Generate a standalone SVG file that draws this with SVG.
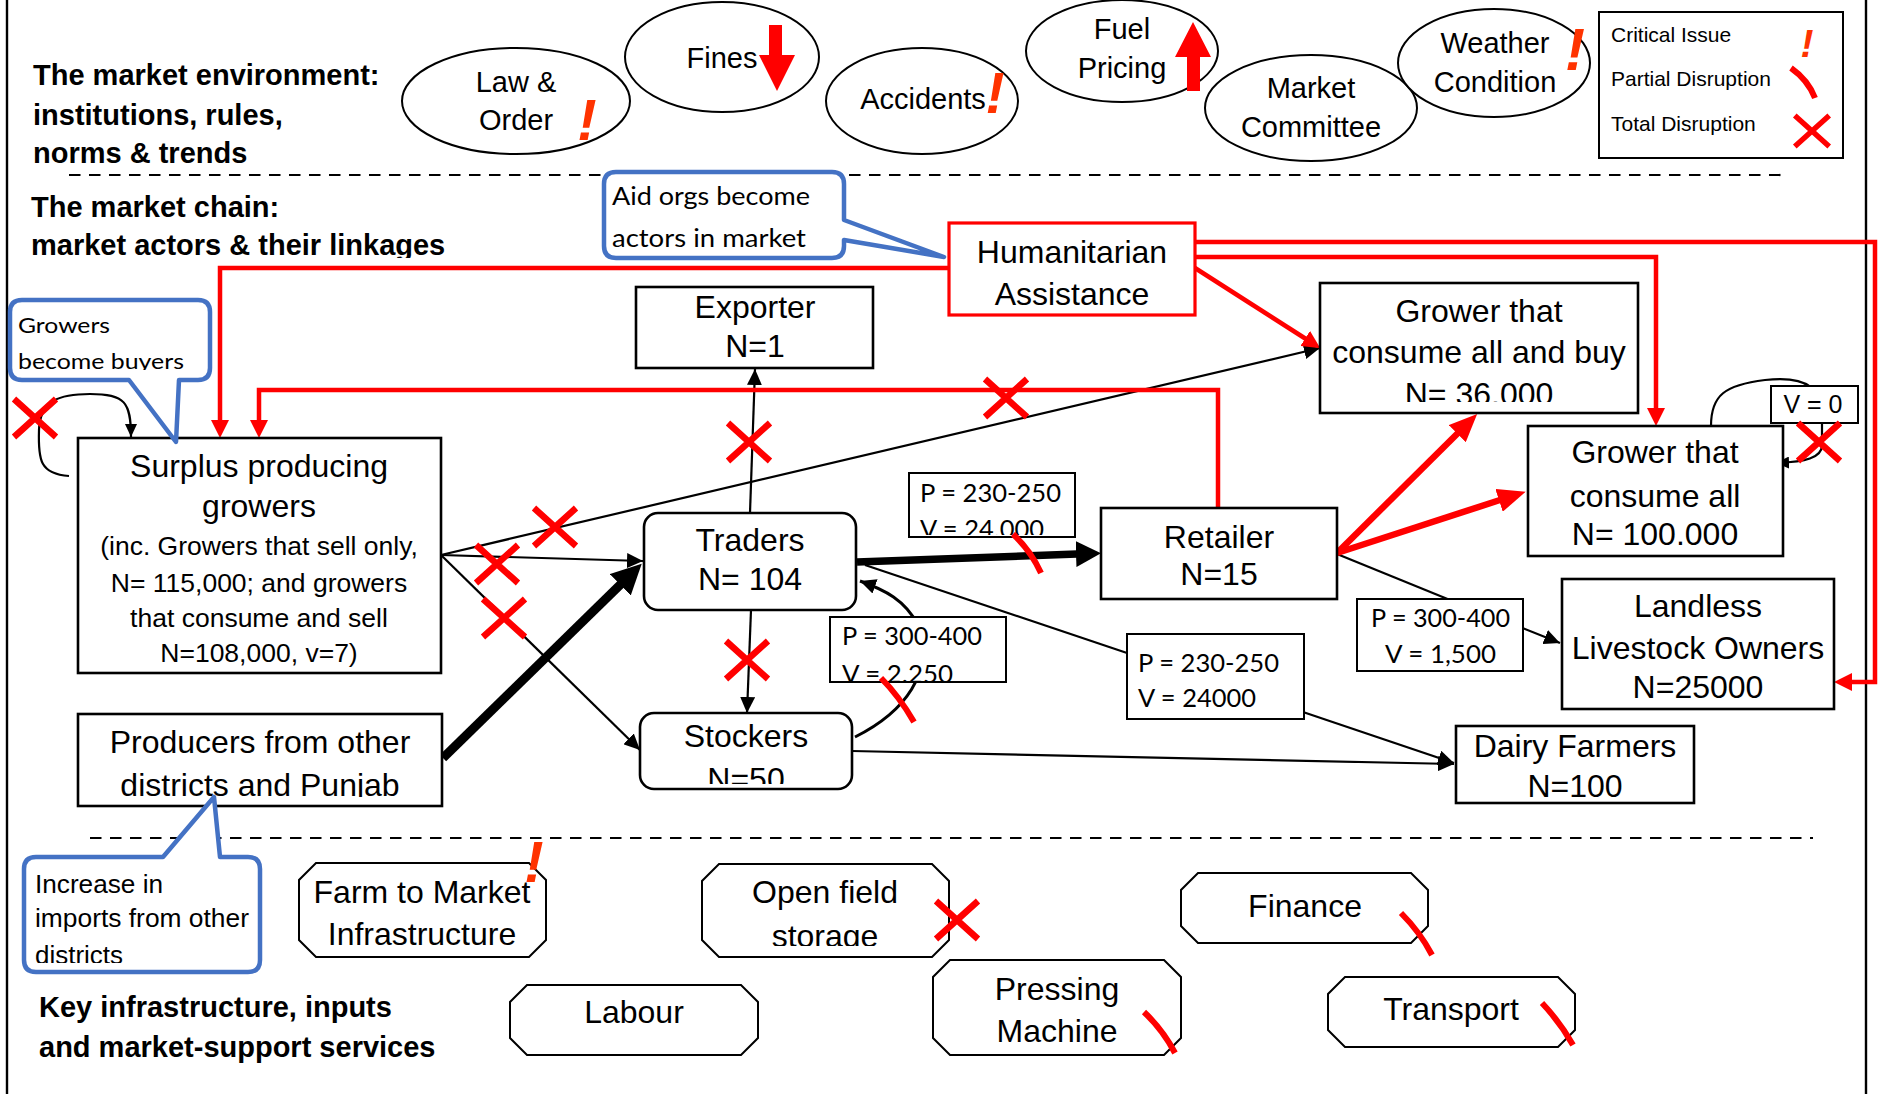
<svg xmlns="http://www.w3.org/2000/svg" xmlns:xlink="http://www.w3.org/1999/xlink" width="1880" height="1094" viewBox="0 0 1880 1094">
  <style>
    .t { font-family: "Liberation Sans", Arial, sans-serif; fill: #000; }
    .n { font-size: 32px; text-anchor: middle; }
    .e { font-size: 29px; text-anchor: middle; }
    .s { font-size: 26.5px; text-anchor: middle; }
    .h { font-size: 29px; font-weight: bold; }
    .lg { font-size: 21px; }
    .c { font-family: Lato, "Open Sans", sans-serif; fill: #000; }
    .ex { font-family: "Liberation Sans", Arial, sans-serif; font-weight: bold; font-style: italic; fill: #FF3300; text-anchor: middle; }
    .box { fill: #fff; stroke: #000; stroke-width: 2.6; }
    .ell { fill: #fff; stroke: #000; stroke-width: 2; }
    .oct { fill: #fff; stroke: #000; stroke-width: 2; }
    .lab { fill: #fff; stroke: #000; stroke-width: 2; }
    .call { fill: #fff; stroke: #4472C4; stroke-width: 4.5; stroke-linejoin: round; }
    .ln { fill: none; stroke: #000; stroke-width: 2.2; }
    .rd { fill: none; stroke: #FF0000; stroke-width: 4.5; }
    .xm { fill: none; stroke: #FF0000; stroke-width: 6.5; }
    .pd { fill: none; stroke: #FF0000; stroke-width: 6; }
    .dash { stroke: #000; stroke-width: 2.2; stroke-dasharray: 11.5 8.5; }
  </style>
  <defs>
    <marker id="aB" markerUnits="userSpaceOnUse" markerWidth="16" markerHeight="15" refX="16" refY="7.5" orient="auto">
      <path d="M0,0 L16,7.5 L0,15 z" fill="#000"/>
    </marker>
    <marker id="aS" markerUnits="userSpaceOnUse" markerWidth="13" markerHeight="12" refX="13" refY="6" orient="auto">
      <path d="M0,0 L13,6 L0,12 z" fill="#000"/>
    </marker>
    <marker id="aThick" markerUnits="userSpaceOnUse" markerWidth="30" markerHeight="30" refX="1" refY="15" orient="auto">
      <path d="M0,0 L30,15 L0,30 z" fill="#000"/>
    </marker>
    <marker id="aMid" markerUnits="userSpaceOnUse" markerWidth="25" markerHeight="26" refX="1" refY="13" orient="auto">
      <path d="M0,0 L25,13 L0,26 z" fill="#000"/>
    </marker>
    <marker id="aR" markerUnits="userSpaceOnUse" markerWidth="18" markerHeight="18" refX="1" refY="9" orient="auto">
      <path d="M0,0 L18,9 L0,18 z" fill="#FF0000"/>
    </marker>
    <marker id="aRB" markerUnits="userSpaceOnUse" markerWidth="28" markerHeight="24" refX="1" refY="12" orient="auto">
      <path d="M0,0 L28,12 L0,24 z" fill="#FF0000"/>
    </marker>
    <path id="xmk" class="xm" d="M-21,-19 L21,19 M21,-19 L-21,19"/>
    <clipPath id="cLink"><rect x="0" y="0" width="1880" height="258"/></clipPath>
    <clipPath id="cBuy"><rect x="0" y="0" width="1880" height="370"/></clipPath>
    <clipPath id="c36"><rect x="0" y="0" width="1880" height="402"/></clipPath>
    <clipPath id="cV24"><rect x="0" y="0" width="1880" height="535"/></clipPath>
    <clipPath id="cV22"><rect x="0" y="0" width="1880" height="681"/></clipPath>
    <clipPath id="cN50"><rect x="0" y="0" width="1880" height="784"/></clipPath>
    <clipPath id="cPun"><rect x="0" y="0" width="1880" height="797"/></clipPath>
    <clipPath id="cSto"><rect x="0" y="0" width="1880" height="946"/></clipPath>
    <clipPath id="cDis"><rect x="0" y="0" width="1880" height="963"/></clipPath>
  </defs>

  <rect width="1880" height="1094" fill="#fff"/>

  <!-- frame sides -->
  <line x1="7" y1="0" x2="7" y2="1094" stroke="#000" stroke-width="2.4"/>
  <line x1="1866" y1="0" x2="1866" y2="1094" stroke="#000" stroke-width="2.4"/>

  <!-- section separators -->
  <line class="dash" x1="69" y1="175" x2="1781" y2="175"/>
  <line class="dash" x1="90" y1="838" x2="1813" y2="838"/>

  <!-- section headings -->
  <g id="headings" class="t h">
    <text x="33" y="85">The market environment:</text>
    <text x="33" y="125">institutions, rules,</text>
    <text x="33" y="163">norms &amp; trends</text>
    <text x="31" y="217">The market chain:</text>
    <text x="31" y="255" clip-path="url(#cLink)">market actors &amp; their linkages</text>
    <text x="39" y="1017">Key infrastructure, inputs</text>
    <text x="39" y="1057">and market-support services</text>
  </g>

  <!-- market environment -->
  <g id="env-law">
    <ellipse class="ell" cx="516" cy="101" rx="114" ry="53"/>
    <text class="t e" x="516" y="92">Law &amp;</text>
    <text class="t e" x="516" y="130">Order</text>
    <text class="ex" x="587" y="140" font-size="58">!</text>
  </g>
  <g id="env-fines">
    <ellipse class="ell" cx="722" cy="57" rx="97" ry="55"/>
    <text class="t e" x="722" y="68">Fines</text>
    <path d="M769,25 H782 V55 H795 L777,91 L759,55 H769 Z" fill="#FF0000"/>
  </g>
  <g id="env-accidents">
    <ellipse class="ell" cx="922" cy="101" rx="96" ry="53"/>
    <text class="t e" x="923" y="109">Accidents</text>
    <text class="ex" x="995" y="113" font-size="57">!</text>
  </g>
  <g id="env-fuel">
    <ellipse class="ell" cx="1122" cy="51" rx="96" ry="51"/>
    <text class="t e" x="1122" y="39">Fuel</text>
    <text class="t e" x="1122" y="78">Pricing</text>
    <path d="M1187,91 V57 H1175 L1193,22 L1211,57 H1200 V91 Z" fill="#FF0000"/>
  </g>
  <g id="env-market-committee">
    <ellipse class="ell" cx="1311" cy="108" rx="106" ry="53"/>
    <text class="t e" x="1311" y="98">Market</text>
    <text class="t e" x="1311" y="137">Committee</text>
  </g>
  <g id="env-weather">
    <ellipse class="ell" cx="1494" cy="63" rx="96" ry="54"/>
    <text class="t e" x="1495" y="53">Weather</text>
    <text class="t e" x="1495" y="92">Condition</text>
    <text class="ex" x="1575" y="70" font-size="60">!</text>
  </g>

  <!-- legend -->
  <g id="legend">
    <rect x="1599" y="12" width="244" height="146" fill="#fff" stroke="#000" stroke-width="2"/>
    <text class="t lg" x="1611" y="42">Critical Issue</text>
    <text class="t lg" x="1611" y="86">Partial Disruption</text>
    <text class="t lg" x="1611" y="131">Total Disruption</text>
    <text class="ex" x="1807" y="57" font-size="39">!</text>
    <path class="pd" d="M1791,68 Q1808,80 1815,98"/>
    <use xlink:href="#xmk" href="#xmk" transform="translate(1812,131) scale(0.82)"/>
  </g>

  <!-- connectors -->
  <g id="connectors">
    <!-- black flows -->
    <line class="ln" x1="441" y1="555" x2="1320" y2="348" marker-end="url(#aB)"/>
    <line class="ln" x1="441" y1="555" x2="643" y2="561" marker-end="url(#aB)"/>
    <line class="ln" x1="441" y1="555" x2="640" y2="750" marker-end="url(#aB)"/>
    <path class="ln" d="M69,476 C40,474 38,460 39,430 C40,400 60,394 90,394 C125,394 131,402 131,437" marker-end="url(#aS)"/>
    <line class="ln" x1="750" y1="513" x2="755" y2="369" marker-end="url(#aB)"/>
    <line class="ln" x1="751" y1="610" x2="747" y2="713" marker-end="url(#aB)"/>
    <path d="M855,737 C905,712 935,672 918,625 C905,600 885,590 860,581" fill="none" stroke="#000" stroke-width="3" marker-end="url(#aB)"/>
    <line class="ln" x1="865" y1="565" x2="1130" y2="654"/>
    <line class="ln" x1="1300" y1="711" x2="1454" y2="763" marker-end="url(#aB)"/>
    <line class="ln" x1="852" y1="751" x2="1454" y2="764" marker-end="url(#aB)"/>
    <line class="ln" x1="1337" y1="554" x2="1450" y2="600"/>
    <line class="ln" x1="1520" y1="627" x2="1560" y2="643" marker-end="url(#aB)"/>
    <path class="ln" d="M1711,426 C1711,395 1725,385 1765,380 C1810,375 1822,390 1822,420 L1822,445 C1822,458 1805,462 1776,463" marker-end="url(#aS)"/>
    <!-- heavy flows -->
    <line x1="443" y1="758" x2="621" y2="584" stroke="#000" stroke-width="9" marker-end="url(#aThick)"/>
    <line x1="857" y1="562" x2="1077" y2="554" stroke="#000" stroke-width="7.5" marker-end="url(#aMid)"/>
    <!-- humanitarian assistance flows -->
    <path class="rd" d="M949,268 H220 V421" marker-end="url(#aR)"/>
    <path class="rd" d="M1195,242 H1875 V682 H1851" marker-end="url(#aR)"/>
    <path class="rd" d="M1195,257 H1656 V409" marker-end="url(#aR)"/>
    <line class="rd" x1="1195" y1="268" x2="1306" y2="339" marker-end="url(#aR)"/>
    <path class="rd" d="M1218,508 V390 H259 V421" marker-end="url(#aR)"/>
    <line x1="1337" y1="553" x2="1458" y2="433" stroke="#FF0000" stroke-width="6.5" marker-end="url(#aRB)"/>
    <line x1="1337" y1="553" x2="1500" y2="500" stroke="#FF0000" stroke-width="6.5" marker-end="url(#aRB)"/>
  </g>

  <!-- market chain actors -->
  <g id="node-humanitarian">
    <rect x="949" y="223" width="246" height="92" fill="#fff" stroke="#FF0000" stroke-width="3.2"/>
    <text class="t n" x="1072" y="263">Humanitarian</text>
    <text class="t n" x="1072" y="305">Assistance</text>
  </g>
  <g id="node-exporter">
    <rect class="box" x="636" y="287" width="237" height="81"/>
    <text class="t n" x="755" y="318">Exporter</text>
    <text class="t n" x="755" y="357">N=1</text>
  </g>
  <g id="node-grower-buy">
    <rect class="box" x="1320" y="283" width="318" height="130"/>
    <text class="t n" x="1479" y="322">Grower that</text>
    <text class="t n" x="1479" y="363">consume all and buy</text>
    <text class="t n" x="1479" y="405" clip-path="url(#c36)">N= 36.000</text>
  </g>
  <g id="node-grower-all">
    <rect class="box" x="1528" y="426" width="255" height="130"/>
    <text class="t n" x="1655" y="463">Grower that</text>
    <text class="t n" x="1655" y="507">consume all</text>
    <text class="t n" x="1655" y="545">N= 100.000</text>
  </g>
  <g id="label-v0">
    <rect class="lab" x="1771" y="386" width="87" height="37"/>
    <text class="t" x="1813" y="413" font-size="25" text-anchor="middle">V = 0</text>
  </g>
  <g id="node-surplus">
    <rect class="box" x="78" y="438" width="363" height="235"/>
    <text class="t n" x="259" y="477">Surplus producing</text>
    <text class="t n" x="259" y="517">growers</text>
    <text class="t s" x="259" y="555">(inc. Growers that sell only,</text>
    <text class="t s" x="259" y="592">N= 115,000; and growers</text>
    <text class="t s" x="259" y="627">that consume and sell</text>
    <text class="t s" x="259" y="662">N=108,000, v=7)</text>
  </g>
  <g id="node-producers">
    <rect class="box" x="78" y="714" width="364" height="92"/>
    <text class="t n" x="260" y="753">Producers from other</text>
    <text class="t n" x="260" y="796" clip-path="url(#cPun)">districts and Punjab</text>
  </g>
  <g id="node-traders">
    <rect class="box" x="644" y="513" width="212" height="97" rx="14"/>
    <text class="t n" x="750" y="551">Traders</text>
    <text class="t n" x="750" y="590">N= 104</text>
  </g>
  <g id="node-stockers">
    <rect class="box" x="640" y="713" width="212" height="76" rx="14"/>
    <text class="t n" x="746" y="747">Stockers</text>
    <text class="t n" x="746" y="790" clip-path="url(#cN50)">N=50</text>
  </g>
  <g id="node-retailer">
    <rect class="box" x="1101" y="508" width="236" height="91"/>
    <text class="t n" x="1219" y="548">Retailer</text>
    <text class="t n" x="1219" y="585">N=15</text>
  </g>
  <g id="node-landless">
    <rect class="box" x="1562" y="579" width="272" height="130"/>
    <text class="t n" x="1698" y="617">Landless</text>
    <text class="t n" x="1698" y="659">Livestock Owners</text>
    <text class="t n" x="1698" y="698">N=25000</text>
  </g>
  <g id="node-dairy">
    <rect class="box" x="1456" y="726" width="238" height="77"/>
    <text class="t n" x="1575" y="757">Dairy Farmers</text>
    <text class="t n" x="1575" y="797">N=100</text>
  </g>

  <!-- price / volume labels -->
  <g id="label-traders-retailer">
    <rect class="lab" x="909" y="473" width="166" height="64"/>
    <text class="c" x="920" y="502" font-size="25" textLength="141" lengthAdjust="spacingAndGlyphs">P = 230-250</text>
    <text class="c" x="920" y="538" font-size="25" textLength="124" lengthAdjust="spacingAndGlyphs" clip-path="url(#cV24)">V = 24.000</text>
  </g>
  <g id="label-stockers-traders">
    <rect class="lab" x="830" y="617" width="176" height="65"/>
    <text class="c" x="842" y="645" font-size="25" textLength="140" lengthAdjust="spacingAndGlyphs">P = 300-400</text>
    <text class="c" x="842" y="683" font-size="25" textLength="111" lengthAdjust="spacingAndGlyphs" clip-path="url(#cV22)">V = 2.250</text>
  </g>
  <g id="label-traders-dairy">
    <rect class="lab" x="1127" y="634" width="177" height="85"/>
    <text class="c" x="1138" y="672" font-size="25" textLength="141" lengthAdjust="spacingAndGlyphs">P = 230-250</text>
    <text class="c" x="1138" y="707" font-size="25" textLength="118" lengthAdjust="spacingAndGlyphs">V = 24000</text>
  </g>
  <g id="label-retailer-landless">
    <rect class="lab" x="1357" y="599" width="166" height="72"/>
    <text class="c" x="1371" y="627" font-size="25" textLength="139" lengthAdjust="spacingAndGlyphs">P = 300-400</text>
    <text class="c" x="1385" y="663" font-size="25" textLength="111" lengthAdjust="spacingAndGlyphs">V = 1,500</text>
  </g>

  <!-- disruption marks on the chain -->
  <g id="disruptions">
    <use xlink:href="#xmk" href="#xmk" x="35" y="418"/>
    <use xlink:href="#xmk" href="#xmk" x="749" y="442"/>
    <use xlink:href="#xmk" href="#xmk" x="1006" y="398"/>
    <use xlink:href="#xmk" href="#xmk" x="555" y="527"/>
    <use xlink:href="#xmk" href="#xmk" x="497" y="564"/>
    <use xlink:href="#xmk" href="#xmk" x="504" y="618"/>
    <use xlink:href="#xmk" href="#xmk" x="747" y="660"/>
    <use xlink:href="#xmk" href="#xmk" x="1819" y="442"/>
    <path class="pd" d="M1013,534 Q1031,551 1041,573"/>
    <path class="pd" d="M881,678 Q899,696 914,722"/>
  </g>

  <!-- callouts -->
  <g id="callout-aid">
    <path class="call" d="M616,172 H832 Q844,172 844,184 V220 L944,257 L844,240 V246 Q844,258 832,258 H616 Q604,258 604,246 V184 Q604,172 616,172 Z"/>
    <text class="c" x="612" y="205" font-size="25" textLength="198" lengthAdjust="spacingAndGlyphs">Aid orgs become</text>
    <text class="c" x="612" y="247" font-size="25" textLength="194" lengthAdjust="spacingAndGlyphs">actors in market</text>
  </g>
  <g id="callout-growers">
    <path class="call" d="M22,300 H198 Q210,300 210,312 V368 Q210,380 198,380 H179 L176,442 L129,380 H22 Q10,380 10,368 V312 Q10,300 22,300 Z"/>
    <text class="c" x="18" y="333" font-size="22" textLength="92" lengthAdjust="spacingAndGlyphs">Growers</text>
    <text class="c" x="18" y="369" font-size="22" textLength="166" lengthAdjust="spacingAndGlyphs" clip-path="url(#cBuy)">become buyers</text>
  </g>
  <g id="callout-imports">
    <path class="call" d="M36,857 H163 L214,797 L220,857 H248 Q260,857 260,869 V960 Q260,972 248,972 H36 Q24,972 24,960 V869 Q24,857 36,857 Z"/>
    <text class="t" x="35" y="893" font-size="25" textLength="128" lengthAdjust="spacingAndGlyphs">Increase in</text>
    <text class="t" x="35" y="927" font-size="25" textLength="214" lengthAdjust="spacingAndGlyphs">imports from other</text>
    <text class="t" x="35" y="964" font-size="25" textLength="88" lengthAdjust="spacingAndGlyphs" clip-path="url(#cDis)">districts</text>
  </g>

  <!-- infrastructure, inputs and services -->
  <g id="svc-farm-to-market">
    <path class="oct" d="M316,863 H529 L546,880 V940 L529,957 H316 L299,940 V880 Z"/>
    <text class="t n" x="422" y="903">Farm to Market</text>
    <text class="t n" x="422" y="945">Infrastructure</text>
    <text class="ex" x="534" y="882" font-size="58">!</text>
  </g>
  <g id="svc-labour">
    <path class="oct" d="M527,985 H741 L758,1002 V1038 L741,1055 H527 L510,1038 V1002 Z"/>
    <text class="t n" x="634" y="1023">Labour</text>
  </g>
  <g id="svc-storage">
    <path class="oct" d="M719,864 H932 L949,881 V940 L932,957 H719 L702,940 V881 Z"/>
    <text class="t n" x="825" y="903">Open field</text>
    <text class="t n" x="825" y="947" clip-path="url(#cSto)">storage</text>
    <use xlink:href="#xmk" href="#xmk" x="957" y="920"/>
  </g>
  <g id="svc-pressing">
    <path class="oct" d="M950,960 H1164 L1181,977 V1038 L1164,1055 H950 L933,1038 V977 Z"/>
    <text class="t n" x="1057" y="1000">Pressing</text>
    <text class="t n" x="1057" y="1042">Machine</text>
    <path class="pd" d="M1144,1012 Q1163,1030 1175,1053"/>
  </g>
  <g id="svc-finance">
    <path class="oct" d="M1198,873 H1411 L1428,890 V926 L1411,943 H1198 L1181,926 V890 Z"/>
    <text class="t n" x="1305" y="917">Finance</text>
    <path class="pd" d="M1401,913 Q1420,932 1432,955"/>
  </g>
  <g id="svc-transport">
    <path class="oct" d="M1345,977 H1558 L1575,994 V1030 L1558,1047 H1345 L1328,1030 V994 Z"/>
    <text class="t n" x="1451" y="1020">Transport</text>
    <path class="pd" d="M1542,1003 Q1560,1022 1573,1045"/>
  </g>
</svg>
